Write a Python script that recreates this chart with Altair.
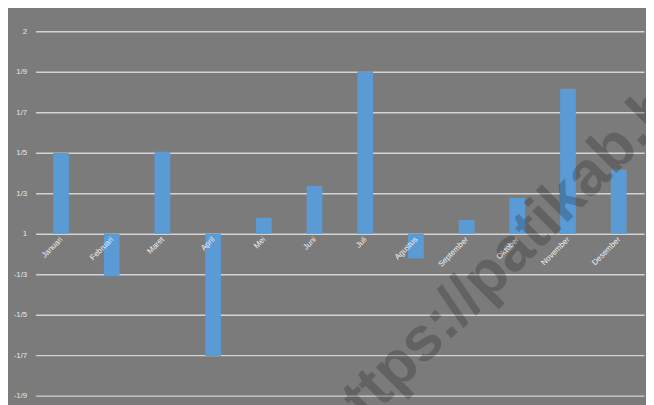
import altair as alt
import pandas as pd

months = ["Januari", "Februari", "Maret", "April", "Mei", "Juni", "Juli",
          "Agustus", "September", "Oktober", "November", "Desember"]
values = [2.0, -1.05, 2.02, -3.02, 0.39, 1.18, 4.02, -0.61, 0.34, 0.885, 3.58, 1.585]

tick_pos = [-4, -3, -2, -1, 0, 1, 2, 3, 4, 5]
tick_labels = ["-1/9", "-1/7", "-1/5", "-1/3", "1", "1/3", "1/5", "1/7", "1/9", "2"]

watermark = "https://patikab.bps.go.id"

df = pd.DataFrame({"month": months, "value": values})

label_map = "{" + ",".join(f"'{p}':'{l}'" for p, l in zip(tick_pos, tick_labels)) + "}"

xscale = alt.Scale(domain=months, paddingInner=0.69, paddingOuter=0.345)
yscale = alt.Scale(domain=[-4, 5], nice=False, zero=False)

bars = alt.Chart(df).mark_bar(color="#5b9bd5").encode(
    x=alt.X("month:N", sort=months, scale=xscale, axis=None),
    y=alt.Y("value:Q", scale=yscale, axis=alt.Axis(
        values=tick_pos,
        labelExpr=f"{label_map}[datum.value]",
        grid=True, gridColor="#d4d4d4", gridWidth=1.5,
        ticks=False, domain=False, labelPadding=9,
        labelFontSize=8, labelColor="#e6e6e6", labelFont="Liberation Sans",
        title=None)),
    y2=alt.datum(0),
)

labels = alt.Chart(df).mark_text(
    angle=315, align="right", baseline="middle", fontSize=8,
    color="#f2f2f2", font="Liberation Sans", dx=-3, dy=4
).encode(
    x=alt.X("month:N", sort=months, scale=xscale, axis=None),
    y=alt.datum(0),
    text="month:N",
)

wm = alt.Chart(pd.DataFrame({"t": [watermark]})).mark_text(
    angle=315, align="left", baseline="alphabetic", fontSize=63,
    fontWeight="bold", font="Liberation Sans", color="#000000", opacity=0.2
).encode(
    x=alt.value(308), y=alt.value(424), text="t:N"
)

chart = alt.layer(bars, labels, wm).properties(
    width=616, height=369,
    autosize=alt.AutoSizeParams(type="none"),
    padding={"left": 28, "top": 21, "right": 2, "bottom": 7},
    background="#7b7b7b",
).configure_view(stroke=None, fill="#7b7b7b")

chart.save("out.html", embed_options={"renderer": "svg", "actions": False})
